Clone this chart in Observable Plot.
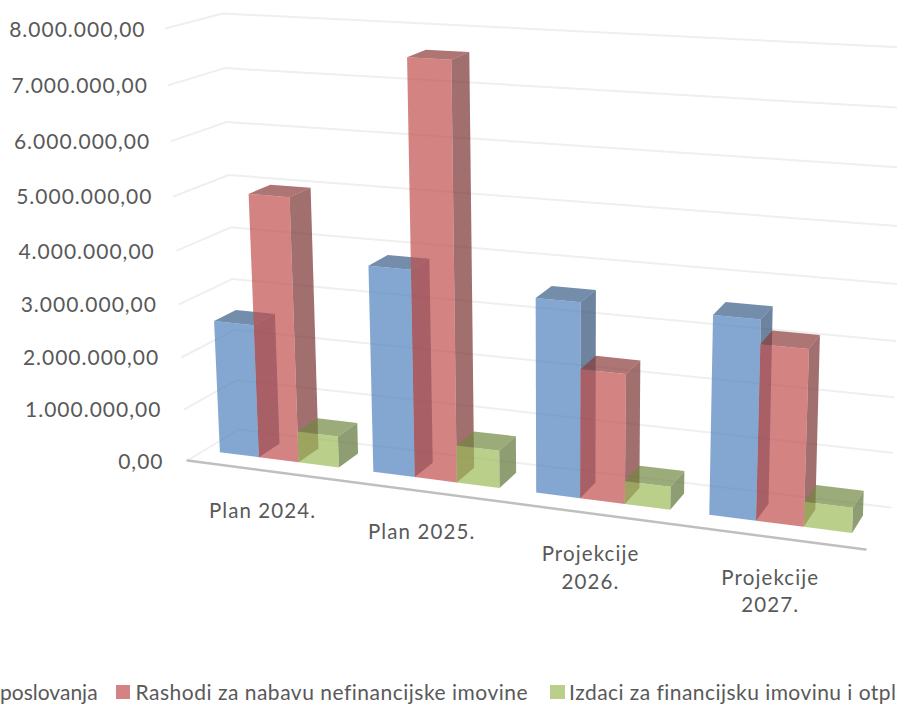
<!DOCTYPE html>
<html><head><meta charset="utf-8">
<script src="https://cdn.jsdelivr.net/npm/d3@7"></script>
<script src="https://cdn.jsdelivr.net/npm/@observablehq/plot@0.6"></script>
<style>
html,body{margin:0;padding:0;background:#fff;overflow:hidden}
.tick-labels text{letter-spacing:1px}
.cat-labels text{letter-spacing:1.1px}
#legend{position:relative;width:897px;height:35px;overflow:hidden;font:21px Lato,sans-serif;letter-spacing:.5px;color:#595959}
#legend .in{position:absolute;left:0;top:9px;display:flex;white-space:nowrap}
#legend .it{display:flex;align-items:center}
#legend .it:first-child span{letter-spacing:0}
#legend .it:last-child span{letter-spacing:.45px}
#legend i{display:inline-block;width:14px;height:14px;margin:0 6px 0 18px}
#legend .it:last-child i{width:15px;margin:0 4px 0 22px}
</style></head><body>
<div id="chart"></div><div id="legend"></div>
<script>
const categories = ["Plan 2024.", "Plan 2025.", "Projekcije\n2026.", "Projekcije\n2027."];
const series = ["poslovanja", "Rashodi za nabavu nefinancijske imovine", "Izdaci za financijsku imovinu i otpl"];
const rashodiPoslovanja = [2550000, 3870000, 3570000, 3570000];
const nefinancijskaImovina = [5000000, 7630000, 2370000, 3140000];
const financijskaImovina = [600000, 700000, 420000, 450000];
const tickValues = [0, 1e6, 2e6, 3e6, 4e6, 5e6, 6e6, 7e6, 8e6];
const tickLabels = ["0,00","1.000.000,00","2.000.000,00","3.000.000,00","4.000.000,00","5.000.000,00","6.000.000,00","7.000.000,00","8.000.000,00"];
const colors = ["#4F81BD", "#C0504D", "#9BBB59"];
const values = [rashodiPoslovanja, nefinancijskaImovina, financijskaImovina];

// 3D view: corner points of the chart box on the picture (front/back, bottom/top, left/right)
const box = {
  FBL:[187,460], FBR:[865,549], BBL:[238,429], BBR:[890,507],
  FTL:[165,28],  FTR:[885,69],  BTL:[222,13],  BTR:[904,47]
};
const axisEdge = {bottom:163, top:145};
const maxValue = 8e6, warpU = 1.13, warpV = 1.058;
const warp = (t,k) => t/(t+(1-t)*k);
const mix = (a,b,f) => [a[0]+(b[0]-a[0])*f, a[1]+(b[1]-a[1])*f];
function project(t, value, w){
  const s = warp(t, warpU), r = warp(value/maxValue, warpV);
  const fb = mix(box.FBL, box.FBR, s), ft = mix(box.FTL, box.FTR, s);
  const bb = mix(box.BBL, box.BBR, s), bt = mix(box.BTL, box.BTR, s);
  return mix(mix(fb, ft, r), mix(bb, bt, r), w);
}
const gap = 0.105, barW = 0.26, w0 = 0.33, w1 = 0.75;
const shade = (c,f) => { const q = d3.rgb(c); return d3.rgb(q.r*f,q.g*f,q.b*f).formatHex(); };

const faces = [];
function addFace(id, pts, fill){ [...pts, pts[0]].forEach(p => faces.push({id, x:p[0], y:p[1], fill})); }
categories.forEach((cat,g) => {
  colors.forEach((c,b) => {
    const v = values[b][g];
    const t0 = (g+gap+b*barW)/categories.length, t1 = (g+gap+(b+1)*barW)/categories.length;
    const k = `${g}-${b}`;
    addFace(k+"s", [project(t1,0,w0),project(t1,v,w0),project(t1,v,w1),project(t1,0,w1)], shade(c,0.62));
    addFace(k+"t", [project(t0,v,w0),project(t1,v,w0),project(t1,v,w1),project(t0,v,w1)], shade(c,0.72));
    addFace(k+"f", [project(t0,0,w0),project(t1,0,w0),project(t1,v,w0),project(t0,v,w0)], c);
  });
});
const grid = tickValues.flatMap(v => [project(0,v,0),project(0,v,1),project(1,v,1)].map(p => ({v, x:p[0], y:p[1]})));
const axisLine = [project(0,0,0),project(1,0,0)].map(p => ({x:p[0],y:p[1]}));
const ticks = tickValues.map((v,i) => { const p = project(0,v,0), r = warp(v/maxValue,warpV);
  return {x:axisEdge.bottom+(axisEdge.top-axisEdge.bottom)*r,y:p[1],label:tickLabels[i]}; });
const cats = categories.map((c,g) => { const p = project((g+0.5)/categories.length,0,0); return {x:p[0],y:p[1],label:c}; });

const font = "Lato, sans-serif";
const chart = Plot.plot({
  width:897, height:670, margin:0,
  x:{domain:[0,897],range:[0,897],axis:null},
  y:{domain:[0,670],range:[0,670],axis:null},
  color:{type:"identity"},
  style:{background:"#fff"},
  marks:[
    Plot.line(grid,{x:"x",y:"y",z:"v",stroke:"#efefef",strokeWidth:2}),
    Plot.line(axisLine,{x:"x",y:"y",stroke:"#bfbfbf",strokeWidth:2.5}),
    Plot.line(faces,{x:"x",y:"y",z:"id",fill:"fill",fillOpacity:0.7,stroke:null,curve:"linear"}),
    Plot.text(ticks,{x:"x",y:"y",text:"label",dy:1.5,textAnchor:"end",fill:"#595959",fontSize:21,fontFamily:font,className:"tick-labels"}),
    Plot.text(cats,{x:"x",y:"y",text:"label",dx:-1,dy:28,lineAnchor:"top",lineHeight:1.35,fill:"#595959",fontSize:20.5,fontFamily:font,className:"cat-labels"})
  ]
});
document.getElementById("chart").append(chart);
const inner = d3.select("#legend").append("div").attr("class","in");
series.forEach((s,i)=>{ const it = inner.append("div").attr("class","it");
  if (i>0) it.append("i").style("background",d3.color(colors[i]).copy({opacity:.7}).formatRgb());
  it.append("span").text(s); });
</script></body></html>
